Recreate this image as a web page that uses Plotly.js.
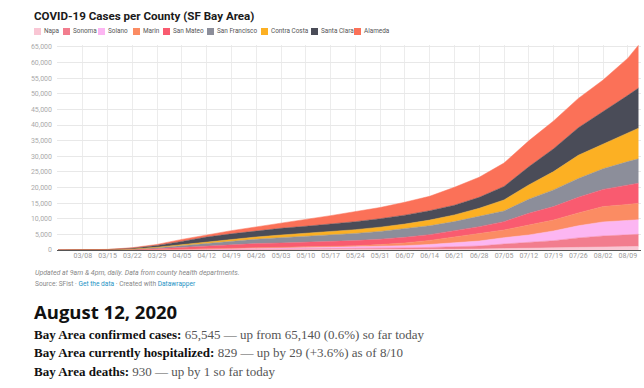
<!DOCTYPE html>
<html>
<head>
<meta charset="utf-8">
<script src="https://cdn.plot.ly/plotly-3.0.1.min.js"></script>
<style>
html,body{margin:0;padding:0;background:#fff;}
#chart{width:644px;height:388px;}
</style>
</head>
<body>
<div id="chart"></div>
<script>
const dates = ['2020-03-01','2020-03-08','2020-03-15','2020-03-22','2020-03-29','2020-04-05','2020-04-12','2020-04-19','2020-04-26','2020-05-03','2020-05-10','2020-05-17','2020-05-24','2020-05-31','2020-06-07','2020-06-14','2020-06-21','2020-06-28','2020-07-05','2020-07-12','2020-07-19','2020-07-26','2020-08-02','2020-08-09','2020-08-12'];
const tickDates = ['2020-03-08','2020-03-15','2020-03-22','2020-03-29','2020-04-05','2020-04-12','2020-04-19','2020-04-26','2020-05-03','2020-05-10','2020-05-17','2020-05-24','2020-05-31','2020-06-07','2020-06-14','2020-06-21','2020-06-28','2020-07-05','2020-07-12','2020-07-19','2020-07-26','2020-08-02','2020-08-09'];
const counties = ['Napa','Sonoma','Solano','Marin','San Mateo','San Francisco','Contra Costa','Santa Clara','Alameda'];
const colors = ['#f9c6d4','#f27d8e','#fcb6f2','#fb8c63','#f95b70','#8c8e9a','#fcb023','#4a4c58','#fb7158'];
const napa = [0,0,2,5,10,20,40,55,65,75,80,90,100,110,140,180,240,330,430,560,700,870,1000,1100,1150];
const sonoma = [0,0,3,10,30,60,110,160,200,230,260,300,360,420,520,650,830,950,1490,1790,2290,3000,3500,3750,3880];
const solano = [0,0,2,10,30,60,100,160,220,280,320,380,450,560,720,950,1280,1600,2030,2460,3110,3900,4500,4600,4650];
const marin = [0,0,5,20,60,110,160,200,230,260,290,350,450,650,900,1300,1840,2250,2460,3200,3520,4100,4900,5150,5290];
const sanMateo = [0,15,25,100,300,600,900,1150,1350,1400,1500,1580,1650,1720,1780,1840,1900,2340,2670,3750,4270,5000,5500,6300,6410];
const sanFrancisco = [0,10,30,90,300,600,900,1100,1400,1700,1900,2100,2300,2500,2700,2850,3000,3210,3420,4480,5340,6000,6600,7400,7790];
const contraCosta = [0,5,15,60,150,300,450,550,700,850,950,1050,1200,1350,1550,1800,2140,2680,3530,4590,5870,7450,8000,9200,9830];
const santaClara = [0,20,50,300,600,1000,1500,1800,2000,2150,2300,2400,2550,2700,2850,3000,3100,3500,4300,5800,7300,8800,10200,12000,12830];
const alameda = [0,20,38,155,320,650,740,1025,1235,1755,2200,2750,3140,3590,4140,4630,5750,6430,7500,8300,8900,9400,10200,11900,13715];
const series = [napa,sonoma,solano,marin,sanMateo,sanFrancisco,contraCosta,santaClara,alameda];

const yTicks = [0,5000,10000,15000,20000,25000,30000,35000,40000,45000,50000,55000,60000,65000];

const title = 'COVID-19 Cases per County (SF Bay Area)';
const note1 = 'Updated at 9am & 4pm, daily. Data from county health departments.';
const headline = 'August 12, 2020';
const lines = [
  ['Bay Area confirmed cases:', '65,545 — up from 65,140 (0.6%) so far today'],
  ['Bay Area currently hospitalized:', '829 — up by 29 (+3.6%) as of 8/10'],
  ['Bay Area deaths:', '930 — up by 1 so far today']
];

// geometry helpers (pixel -> paper)
const W = 644, H = 388, L = 57, R = 3, T = 45, B = 138;
const pw = W - L - R, ph = H - T - B;
const px = x => (x - L) / pw;
const py = y => (H - B - y) / ph;

const traces = series.map((s, i) => ({
  x: dates, y: s, name: counties[i], type: 'scatter', mode: 'lines',
  stackgroup: 'one', line: {width: 0.5, color: colors[i]}, fillcolor: colors[i],
  showlegend: false, hoverinfo: 'skip'
}));

const legendPos = [34, 63, 98, 133, 163, 207, 261, 311, 354];
const shapes = [];
const annotations = [];
counties.forEach((c, i) => {
  const x0 = legendPos[i];
  shapes.push({type: 'rect', xref: 'paper', yref: 'paper', x0: px(x0), x1: px(x0 + 7), y0: py(35), y1: py(28),
    fillcolor: colors[i], line: {width: 0}});
  annotations.push({xref: 'paper', yref: 'paper', x: px(x0 + 8.5), y: py(31.5), xanchor: 'left', yanchor: 'middle',
    text: c, showarrow: false, borderpad: 0,
    font: {family: 'Roboto, sans-serif', size: 6.4, color: '#555'}});
});

annotations.push({xref: 'paper', yref: 'paper', x: px(34), y: py(273), xanchor: 'left', yanchor: 'middle',
  text: '<i>' + note1 + '</i>', showarrow: false, borderpad: 0,
  font: {family: 'Roboto, sans-serif', size: 7, color: '#888'}});
annotations.push({xref: 'paper', yref: 'paper', x: px(34), y: py(283.5), xanchor: 'left', yanchor: 'middle',
  text: 'Source: SFist · <span style="color:#1d93c4">Get the data</span> · Created with <span style="color:#1d93c4">Datawrapper</span>',
  showarrow: false, borderpad: 0, font: {family: 'Roboto, sans-serif', size: 6.6, color: '#888'}});
annotations.push({xref: 'paper', yref: 'paper', x: px(33), y: py(311), xanchor: 'left', yanchor: 'middle',
  text: '<b>' + headline + '</b>', showarrow: false, borderpad: 0,
  font: {family: 'Open Sans, sans-serif', size: 18.5, color: '#111'}});
const lineY = [334, 352.5, 371];
lines.forEach((ln, i) => {
  annotations.push({xref: 'paper', yref: 'paper', x: px(33), y: py(lineY[i]), xanchor: 'left', yanchor: 'middle',
    text: '<b>' + ln[0] + '</b> <span style="color:#555">' + ln[1] + '</span>', showarrow: false, borderpad: 0,
    font: {family: 'Liberation Serif, serif', size: 13, color: '#111'}});
});

const layout = {
  width: W, height: H,
  margin: {l: L, r: R, t: T, b: B, pad: 0},
  paper_bgcolor: '#fff', plot_bgcolor: '#fff',
  font: {family: 'Roboto, sans-serif'},
  title: {text: '<b>' + title + '</b>', xref: 'container', yref: 'container', x: 34 / W, xanchor: 'left',
    y: 1 - 16 / H, yanchor: 'middle', font: {family: 'Roboto, sans-serif', size: 11.6, color: '#1a1a1a'}},
  xaxis: {type: 'date', range: ['2020-02-29 17:00', '2020-08-12 17:00'], tickvals: tickDates,
    tickformat: '%m/%d', showgrid: true, gridcolor: '#ececec', gridwidth: 1, zeroline: false, showline: false,
    ticks: '', ticklen: 0, tickfont: {size: 7, color: '#999'}, fixedrange: true},
  yaxis: {range: [0, 65600], tickvals: yTicks, tickformat: ',d', showgrid: true, gridcolor: '#e8e8e8', gridwidth: 1,
    zeroline: true, zerolinecolor: '#555', zerolinewidth: 1, ticks: '', tickfont: {size: 7, color: '#aaa'},
    ticklabelstandoff: 4, fixedrange: true},
  shapes: shapes,
  annotations: annotations,
  showlegend: false
};

Plotly.newPlot('chart', traces, layout, {staticPlot: true, displayModeBar: false});
</script>
</body>
</html>
